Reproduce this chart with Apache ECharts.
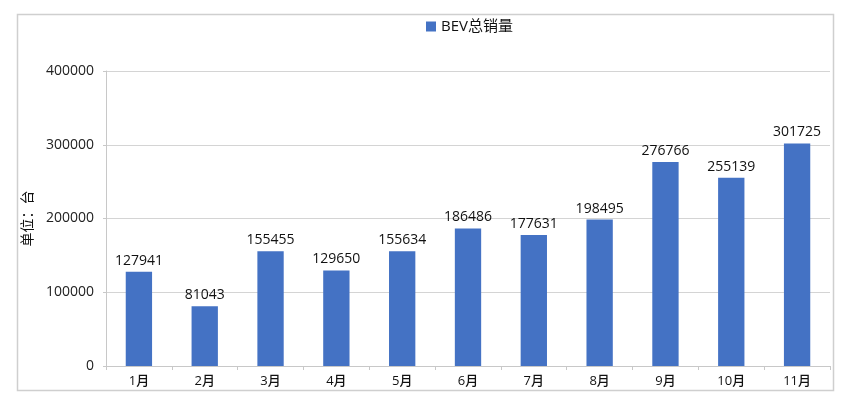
<!DOCTYPE html>
<html><head><meta charset="utf-8">
<script src="https://cdn.jsdelivr.net/npm/echarts@6/dist/echarts.min.js"></script>
<style>html,body{margin:0;padding:0;background:#fff}#c{width:850px;height:403px}</style>
</head><body><div id="c"></div>
<script>
const categories = ['1月','2月','3月','4月','5月','6月','7月','8月','9月','10月','11月'];
const bevSales = [127941, 81043, 155455, 129650, 155634, 186486, 177631, 198495, 276766, 255139, 301725];
const seriesName = 'BEV总销量';
const yAxisName = '单位：台';
const FONT = '"Open Sans","Noto Sans CJK SC",sans-serif';
const chart = echarts.init(document.getElementById('c'));
chart.setOption({
  backgroundColor: '#fff',
  animation: false,
  textStyle: {fontFamily: FONT},
  graphic: [{type:'rect', shape:{x:17.5, y:14.5, width:816, height:376}, style:{fill:'none', stroke:'#cfcfcf', lineWidth:1.5}, silent:true}],
  legend: {
    data: [seriesName], top: 14, left: 421, itemWidth: 10, itemHeight: 10, icon: 'rect', itemGap: 8,
    textStyle: {fontSize: 15, color: '#111', fontFamily: FONT}
  },
  grid: {left: 106, right: 20, top: 71, bottom: 37, containLabel: false},
  xAxis: {
    type: 'category', data: categories,
    axisLine: {lineStyle: {color: '#c8c8c8', width: 1}},
    axisTick: {show: true, alignWithLabel: false, length: 4, lineStyle: {color: '#c8c8c8'}},
    axisLabel: {color: '#111', fontSize: 13, fontWeight: 500, margin: 9, fontFamily: FONT}
  },
  yAxis: {
    type: 'value', min: 0, max: 400000, interval: 100000,
    name: yAxisName, nameLocation: 'middle', nameGap: 68, nameRotate: 90,
    nameTextStyle: {fontSize: 14, color: '#111', fontFamily: FONT},
    axisLine: {show: true, lineStyle: {color: '#c8c8c8'}},
    axisTick: {show: true, length: 3, lineStyle: {color: '#c8c8c8'}},
    axisLabel: {color: '#222', fontSize: 14, margin: 12, fontFamily: FONT, formatter: v => String(v)},
    splitLine: {lineStyle: {color: '#d4d4d4', width: 1}}
  },
  series: [{
    name: seriesName, type: 'bar', data: bevSales, barWidth: '40%',
    itemStyle: {color: '#4472C4'},
    label: {show: true, position: 'top', distance: 4, color: '#111', fontSize: 14, fontFamily: FONT}
  }]
});
</script></body></html>
